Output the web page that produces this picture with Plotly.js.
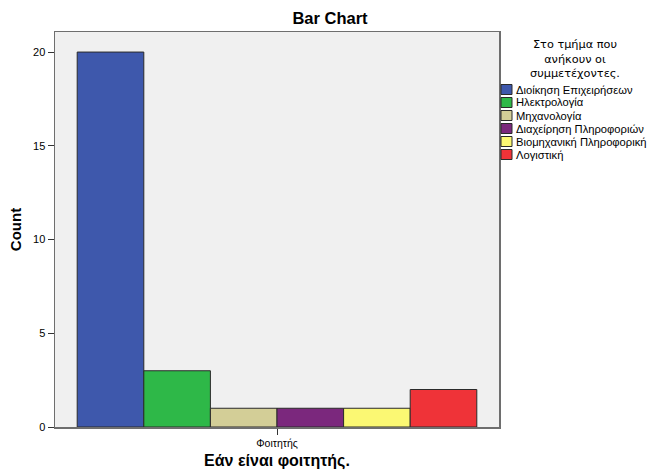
<!DOCTYPE html>
<html>
<head>
<meta charset="utf-8">
<script src="https://cdn.plot.ly/plotly-3.0.1.min.js"></script>
<style>html,body{margin:0;padding:0;background:#fff;}#chart{width:650px;height:470px;}</style>
</head>
<body>
<div id="chart"></div>
<script>
const categories = ['Φοιτητής'];
const departments = ['Διοίκηση Επιχειρήσεων', 'Ηλεκτρολογία', 'Μηχανολογία', 'Διαχείρηση Πληροφοριών', 'Βιομηχανική Πληροφορική', 'Λογιστική'];
const counts = [20, 3, 1, 1, 1, 2];
const colors = ['#3E58AC', '#2EB848', '#D3CE97', '#7B287D', '#FBF873', '#EF3338'];
const yTicks = [0, 5, 10, 15, 20];
const legendTitle = 'Στο τμήμα που<br>ανήκουν οι<br>συμμετέχοντες.';

const W = 650, H = 470;
const L = 55, R = 499, T = 32, B = 427;
const px = x => (x - L) / (R - L);
const py = y => (B - y) / (B - T);
const FONT = 'Liberation Sans, Arial, sans-serif';

const traces = departments.map((d, i) => ({
  type: 'bar',
  x: categories,
  y: [counts[i]],
  name: d,
  marker: {color: colors[i], line: {color: '#2a2a2a', width: 1}},
  showlegend: false,
  hoverinfo: 'name+y'
}));

const shapes = [];
const annotations = [];
annotations.push({
  xref: 'paper', yref: 'paper', x: px(575), y: py(59),
  xanchor: 'center', yanchor: 'middle', align: 'center',
  text: legendTitle, showarrow: false,
  font: {family: 'DejaVu Sans, sans-serif', size: 11.3, color: '#000'}
});
departments.forEach((d, i) => {
  const cy = 89.5 + i * 13;
  shapes.push({
    type: 'rect', xref: 'paper', yref: 'paper',
    x0: px(501), x1: px(512), y0: py(cy - 5), y1: py(cy + 5),
    fillcolor: colors[i], line: {color: '#2a2a2a', width: 1}
  });
  annotations.push({
    xref: 'paper', yref: 'paper', x: px(514), y: py(cy),
    xanchor: 'left', yanchor: 'middle', align: 'left',
    text: d, showarrow: false,
    font: {family: FONT, size: 11.2, color: '#000'}
  });
});

const layout = {
  width: W, height: H,
  margin: {l: L, r: W - R, t: T, b: H - B, pad: 0},
  paper_bgcolor: '#ffffff',
  plot_bgcolor: '#F0F0F0',
  font: {family: FONT, size: 11, color: '#000'},
  title: {
    text: '<b>Bar Chart</b>', xref: 'container', x: 330 / W, xanchor: 'center',
    yref: 'container', y: 1 - 18.5 / H, yanchor: 'middle',
    font: {family: FONT, size: 16.5, color: '#000'}
  },
  barmode: 'group', bargap: 0.1, bargroupgap: 0,
  xaxis: {
    type: 'category',
    showline: true, mirror: true, linecolor: '#6e6e6e', linewidth: 1.5,
    ticks: 'outside', ticklen: 6, tickcolor: '#333', tickwidth: 1,
    tickfont: {family: FONT, size: 10.5, color: '#000'},
    showgrid: false, zeroline: false,
    title: {text: '<b>Εάν είναι φοιτητής.</b>', font: {family: FONT, size: 16, color: '#000'}, standoff: 9}
  },
  yaxis: {
    range: [0, 21.07],
    tickvals: yTicks,
    showline: true, mirror: true, linecolor: '#6e6e6e', linewidth: 1.5,
    ticks: 'outside', ticklen: 6, tickcolor: '#333', tickwidth: 1,
    tickfont: {family: FONT, size: 11, color: '#000'},
    showgrid: false, zeroline: false,
    title: {text: '<b>Count</b>', font: {family: FONT, size: 15, color: '#000'}, standoff: 8}
  },
  shapes: shapes,
  annotations: annotations,
  showlegend: false
};

Plotly.newPlot('chart', traces, layout, {displayModeBar: false, staticPlot: true});
</script>
</body>
</html>
